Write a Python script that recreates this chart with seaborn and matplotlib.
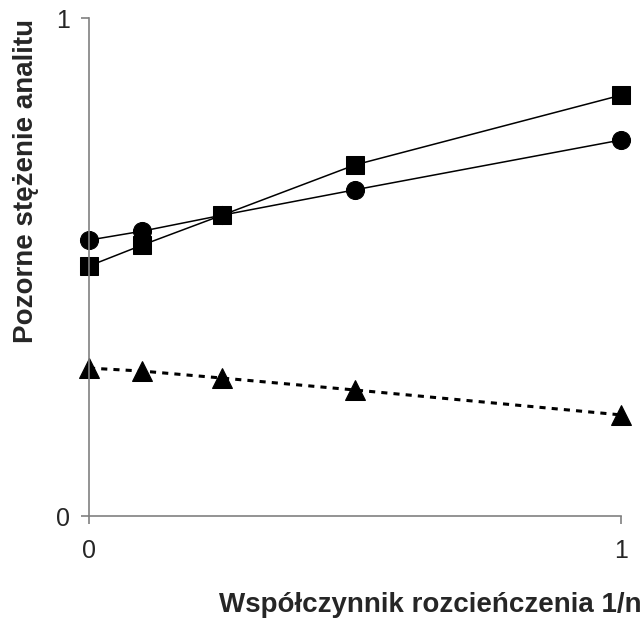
import numpy as np
import pandas as pd
import matplotlib
matplotlib.use("Agg")
import matplotlib.pyplot as plt
import seaborn as sns

# Dilution factor (1/n) and apparent analyte concentration for three cases
dilution = [0.0, 0.1, 0.25, 0.5, 1.0]
series_square = [0.502, 0.544, 0.604, 0.705, 0.845]
series_circle = [0.554, 0.572, 0.604, 0.655, 0.755]
series_triangle = [0.297, 0.291, 0.277, 0.253, 0.203]

x_ticks = [0, 1]
y_ticks = [0, 1]
x_label = "Współczynnik rozcieńczenia 1/n"
y_label = "Pozorne stężenie analitu"

df = pd.DataFrame({
    "x": dilution * 3,
    "y": series_square + series_circle + series_triangle,
    "series": ["square"] * 5 + ["circle"] * 5 + ["triangle"] * 5,
})

sns.set_style("white")
plt.rcParams["font.family"] = ["Liberation Sans", "DejaVu Sans"]

fig = plt.figure(figsize=(6.42, 6.22), dpi=100)
ax = fig.add_axes([89 / 642, 1 - 516 / 622, 532 / 642, 498 / 622])

sns.lineplot(
    data=df, x="x", y="y", style="series", hue="series",
    palette={"square": "black", "circle": "black", "triangle": "black"},
    markers={"square": "s", "circle": "o", "triangle": "^"},
    dashes=False, legend=False, ax=ax, linewidth=1.1, markersize=13,
    markeredgecolor="black", sort=False,
)
# dashed line for the triangle series
lines = ax.get_lines()
for ln in lines:
    if ln.get_marker() == "^":
        ln.set_linestyle((0, (2, 2)))
        ln.set_linewidth(2.2)
        ln.set_markersize(14)
    if ln.get_marker() == "s":
        ln.set_markersize(12.5)
    ln.set_clip_on(False)

ax.set_xlim(0, 1)
ax.set_ylim(0, 1)
ax.set_xticks(x_ticks)
ax.set_yticks(y_ticks)
ax.set_xticklabels([str(t) for t in x_ticks])
ax.set_yticklabels([str(t) for t in y_ticks])

for side in ["top", "right"]:
    ax.spines[side].set_visible(False)
for side in ["left", "bottom"]:
    ax.spines[side].set_color("#808080")
    ax.spines[side].set_linewidth(1.2)

ax.tick_params(axis="both", direction="out", length=5.5, width=1.2,
               color="#808080", labelsize=18, left=True, bottom=True)
ax.tick_params(axis="x", pad=11)
ax.tick_params(axis="y", pad=8)

ax.set_xlabel(x_label, fontsize=20, fontweight="bold")
ax.set_ylabel(y_label, fontsize=20, fontweight="bold")
ax.xaxis.label.set_va("baseline")
ax.xaxis.set_label_coords(0.641, -0.1928)
ax.yaxis.label.set_rotation_mode("anchor")
ax.yaxis.label.set_ha("center")
ax.yaxis.label.set_va("baseline")
ax.yaxis.set_label_coords(-0.105, 0.673)

fig.savefig("out.png", dpi=100)
